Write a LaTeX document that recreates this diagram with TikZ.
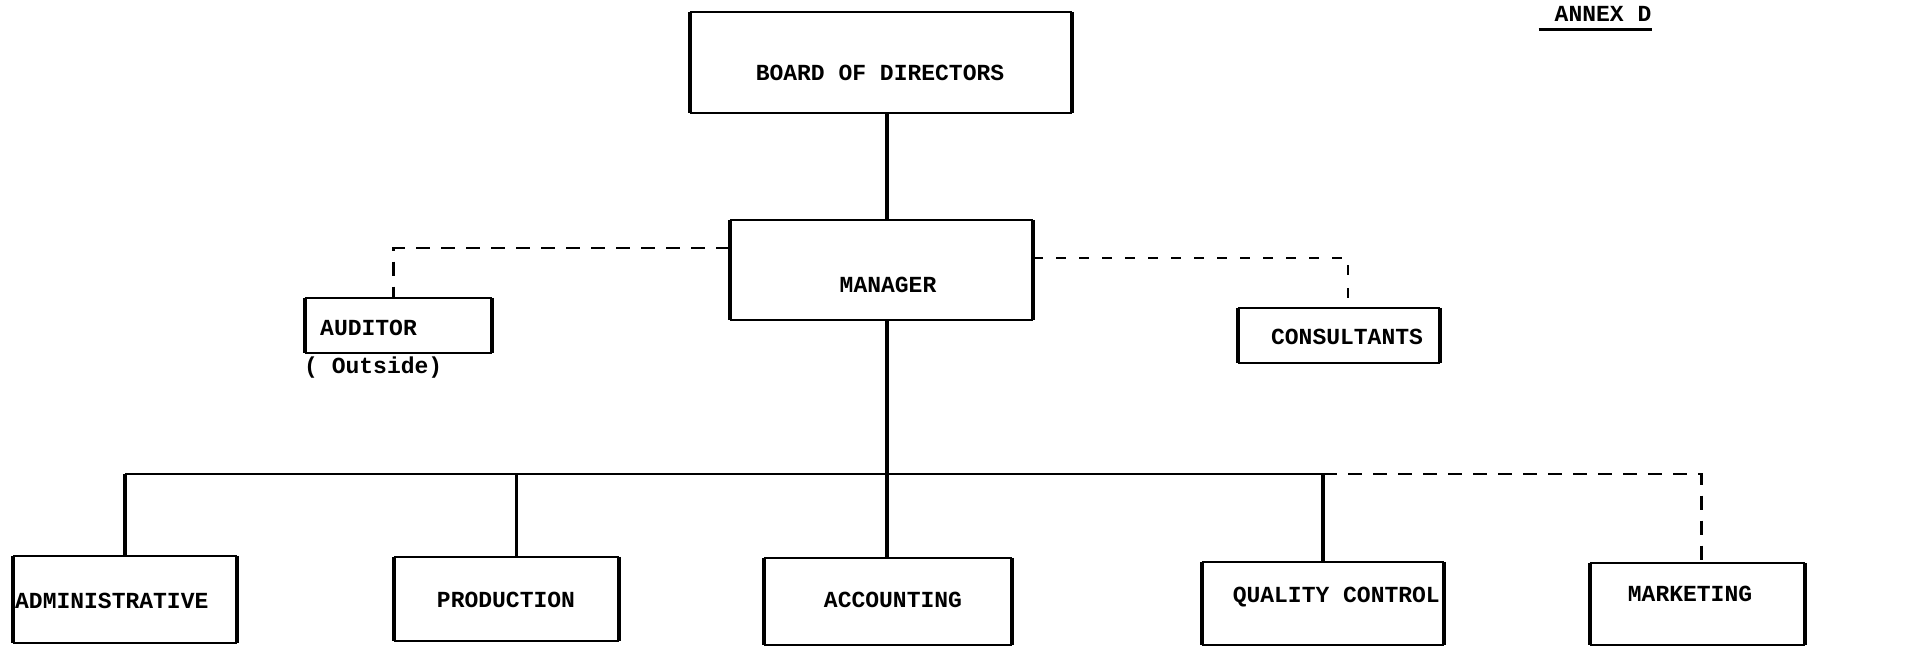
\documentclass[tikz,border=0pt]{standalone}
\usepackage{fontspec}
\setmonofont{Liberation Mono}
\begin{document}
\begin{tikzpicture}[x=1pt,y=-1pt,
  box/.style={draw=none, rectangle, inner sep=0pt},
  lbl/.style={font=\fontsize{23}{26}\selectfont\ttfamily\bfseries, inner sep=0pt},
  vedge/.style={line width=4pt},
  hedge/.style={line width=1.8pt},
  conn/.style={line width=3.4pt},
  busline/.style={line width=2.2pt},
  dashA/.style={line width=2.4pt, dash pattern=on 14pt off 11pt},
  dashB/.style={line width=1.4pt, dash pattern=on 10pt off 13pt},
]
\useasboundingbox (0,0) rectangle (1907,655);

% boxes
\node[box, minimum width=382pt, minimum height=101pt] (board) at (881,62.5) {};
\node[box, minimum width=303pt, minimum height=100pt] (manager) at (881.5,270) {};
\node[box, minimum width=187pt, minimum height=55pt] (auditor) at (398.5,325.5) {};
\node[box, minimum width=202pt, minimum height=55pt] (consultants) at (1339,335.5) {};
\node[box, minimum width=223pt, minimum height=87pt] (admin) at (125,599.5) {};
\node[box, minimum width=225pt, minimum height=84pt] (production) at (506.5,599) {};
\node[box, minimum width=248pt, minimum height=87pt] (accounting) at (888,601.5) {};
\node[box, minimum width=242pt, minimum height=83pt] (quality) at (1323,603.5) {};
\node[box, minimum width=215pt, minimum height=82pt] (marketing) at (1697.5,604) {};

\foreach \n in {board,manager,auditor,consultants,admin,production,accounting,quality,marketing}{
  \draw[hedge] (\n.north west) -- (\n.north east) (\n.south west) -- (\n.south east);
  \draw[vedge] (\n.north west) -- (\n.south west) (\n.north east) -- (\n.south east);
}

% labels
\node[lbl] (boardt) at (880,73) {BOARD OF DIRECTORS};
\node[lbl] (managert) at (888,285) {MANAGER};
\node[lbl, anchor=west] (auditort) at (320,328) {AUDITOR};
\node[lbl, anchor=west] (outsidet) at (304,368) {( Outside)};
\node[lbl] (consultt) at (1347,337) {CONSULTANTS};
\node[lbl, anchor=west] (admint) at (15,601) {ADMINISTRATIVE};
\node[lbl] (prodt) at (506,600) {PRODUCTION};
\node[lbl] (acctt) at (893,600) {ACCOUNTING};
\node[lbl, anchor=east] (qualt) at (1440,597) {QUALITY CONTROL};
\node[lbl] (markt) at (1690,594) {MARKETING};
\node[lbl] (annex) at (1603,14) {ANNEX D};
\draw[line width=3pt] ([xshift=-16pt,yshift=-7.5pt]annex.south west) -- ([yshift=-7.5pt]annex.south east);

% connectors
\coordinate (spine) at (887,0);
\coordinate (busy) at (0,474);
\coordinate (audy) at (0,248);
\coordinate (consy) at (0,258);
\draw[conn] (board.south -| spine) -- (manager.north -| spine);
\draw[conn] (manager.south -| spine) -- (accounting.north -| spine);
\draw[busline] (admin.north |- busy) -- (quality.north |- busy);
\draw[conn] (admin.north |- busy) -- (admin.north);
\draw[conn] ([xshift=10pt]production.north |- busy) -- ([xshift=10pt]production.north);
\draw[conn] (quality.north |- busy) -- (quality.north);
\draw[dashA] (quality.north |- busy) -| ([xshift=4pt]marketing.north);
\draw[dashA] (manager.west |- audy) -| ([xshift=-5pt]auditor.north);
\draw[dashB] (manager.east |- consy) -| ([xshift=9pt]consultants.north);
\end{tikzpicture}
\end{document}
